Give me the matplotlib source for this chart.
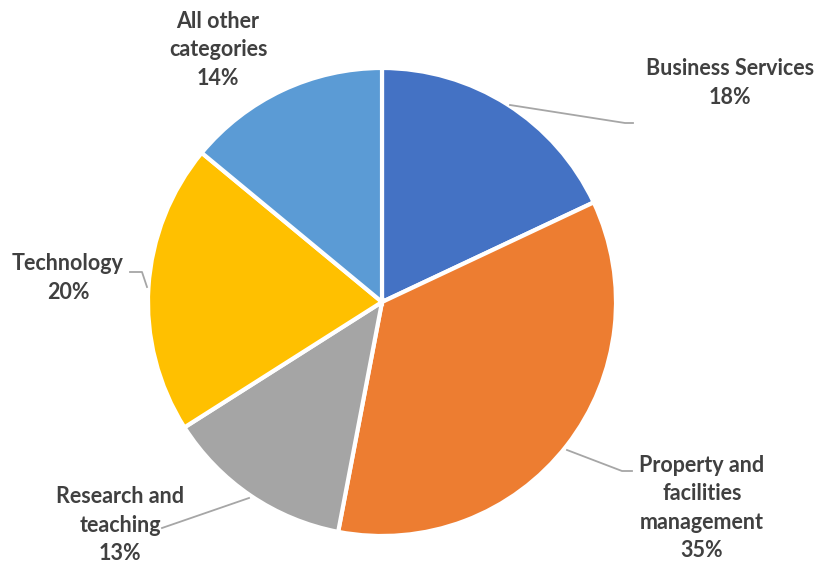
import matplotlib.pyplot as plt

labels = ["Business Services", "Property and\nfacilities\nmanagement", "Research and\nteaching",
          "Technology", "All other\ncategories"]
shares = [18, 35, 13, 20, 14]
colors = ["#4472C4", "#ED7D31", "#A5A5A5", "#FFC000", "#5B9BD5"]

# label positions (pixel coords, y from top) and leader lines
label_pos = [(730, 83), (702, 508), (120, 525), (68, 278), (218, 50)]
leaders = [[(510, 105), (625, 123), (633, 123)],
           [(567, 450), (622, 471), (632, 471)],
           [(249, 498), (162, 528)],
           [(147, 287), (142, 272), (130, 272)],
           None]

W, H = 819, 565
fig = plt.figure(figsize=(8.19, 5.65), dpi=100)
ax = fig.add_axes([0, 0, 1, 1])

ax.pie(shares, colors=colors, startangle=90, counterclock=False,
       center=(382, H - 302), radius=234,
       wedgeprops=dict(edgecolor="white", linewidth=3), frame=True)
ax.set_xlim(0, W)
ax.set_ylim(0, H)
ax.set_aspect("equal")
ax.axis("off")

for lab, s, (x, y), ld in zip(labels, shares, label_pos, leaders):
    ax.text(x, H - y, lab + "\n" + str(s) + "%", ha="center", va="center",
            fontsize=15.5, fontweight="bold", color="#404040", family="Lato",
            linespacing=1.42)
    if ld:
        ax.plot([p[0] for p in ld], [H - p[1] for p in ld], color="#A6A6A6", lw=1.3)

fig.savefig("out.png", dpi=100)
